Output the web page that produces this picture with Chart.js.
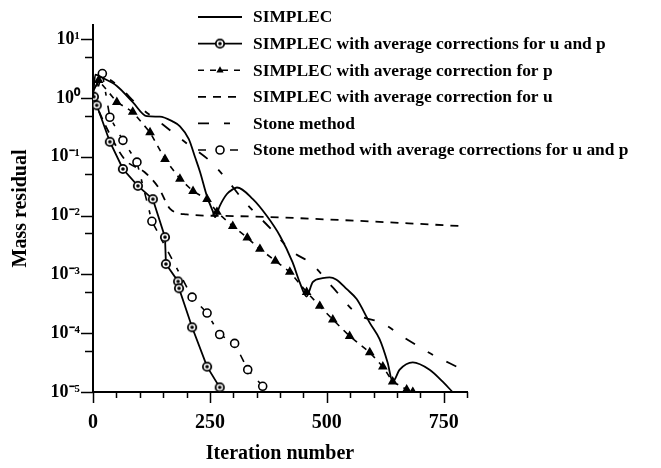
<!DOCTYPE html>
<html>
<head>
<meta charset="utf-8">
<script src="https://cdn.jsdelivr.net/npm/chart.js@4.4.0/dist/chart.umd.min.js"></script>
<style>
  html, body { margin: 0; padding: 0; background: #fff; }
</style>
</head>
<body>
<canvas id="residuals" width="661" height="468"></canvas>
<script>
// values (x = iteration, y = mass residual)
var simplecIter = [0, 5, 20, 51, 85, 115, 143, 170, 186, 205, 218, 229, 244, 256, 261, 271, 286, 299, 308, 342, 372, 400, 427, 442, 457, 470, 491, 506, 520, 543, 564, 592, 613, 630, 641, 656, 684, 720, 748, 769];
var simplecRes = [1.0, 2.5, 2.2, 1.6, 0.85, 0.49, 0.48, 0.4, 0.33, 0.2, 0.1, 0.055, 0.021, 0.012, 0.0094, 0.0145, 0.023, 0.028, 0.030, 0.019, 0.0098, 0.0045, 0.0016, 0.00074, 0.00042, 0.00074, 0.00086, 0.00089, 0.00082, 0.00056, 0.00038, 0.00015, 0.000079, 0.000032, 0.000015, 0.000024, 0.000032, 0.000024, 0.000015, 0.00001];

var uvIter = [2, 8, 36, 64, 96, 128, 154, 156, 182, 184, 212, 244, 271];
var uvRes = [1.05, 0.75, 0.18, 0.062, 0.032, 0.019, 0.0043, 0.0015, 0.00076, 0.00058, 0.000126, 0.000027, 0.000012];

var pIter = [0, 12, 51, 85, 122, 154, 186, 214, 244, 265, 299, 330, 357, 390, 421, 457, 485, 513, 549, 592, 620, 641, 671, 684];
var pRes = [1.0, 2.0, 0.85, 0.58, 0.26, 0.091, 0.042, 0.026, 0.019, 0.0115, 0.0066, 0.0042, 0.0027, 0.0017, 0.0011, 0.0005, 0.00029, 0.00017, 0.000089, 0.000047, 0.000027, 0.000015, 0.000011, 0.00001];

var uIter = [0, 30, 68, 110, 140, 165, 200, 300, 400, 500, 600, 700, 790];
var uRes = [1.0, 0.3, 0.09, 0.055, 0.03, 0.013, 0.0105, 0.0098, 0.0093, 0.0086, 0.0079, 0.0072, 0.0066];

var stoneIter = [0, 20, 50, 100, 150, 200, 250, 282, 325, 380, 425, 468, 513, 566, 618, 665, 722, 782];
var stoneRes = [1.3, 2.3, 1.7, 0.7, 0.35, 0.17, 0.085, 0.045, 0.017, 0.006, 0.0025, 0.0015, 0.0006, 0.00021, 0.00015, 0.000085, 0.000045, 0.000026];

var stoneAvgIter = [0, 20, 36, 64, 94, 126, 212, 244, 271, 303, 331, 363];
var stoneAvgRes = [0.8, 2.6, 0.47, 0.19, 0.081, 0.008, 0.00041, 0.00022, 0.000095, 0.000067, 0.000024, 0.0000125];

var seriesNames = [
  'SIMPLEC',
  'SIMPLEC with average corrections for u and p',
  'SIMPLEC with average correction for p',
  'SIMPLEC with average correction for u',
  'Stone method',
  'Stone method with average corrections for u and p'
];

var yTickValues = [1e-5, 5e-5, 1e-4, 5e-4, 1e-3, 5e-3, 1e-2, 5e-2, 1e-1, 0.5, 1, 5, 10];
var yTickLabels = ['10\u207B\u2075', '10\u207B\u2074', '10\u207B\u00B3', '10\u207B\u00B2', '10\u207B\u00B9', '10\u2070', '10\u00B9'];
var xTickLabels = ['0', '250', '500', '750'];

var serif = '"Liberation Serif", "Times New Roman", serif';

function pairs(xs, ys) {
  return xs.map(function(x, i) { return {x: x, y: ys[i]}; });
}

function isDecade(v) {
  var l = Math.log10(v);
  return Math.abs(l - Math.round(l)) < 1e-6;
}

/** circle with a dark centre, used for the u and p corrected SIMPLEC run */
function dotCircle() {
  var c = document.createElement('canvas');
  c.width = 12; c.height = 12;
  var g = c.getContext('2d');
  g.fillStyle = '#fff';
  g.strokeStyle = '#000';
  g.lineWidth = 1.8;
  g.beginPath(); g.arc(6, 6, 4.2, 0, Math.PI * 2); g.fill(); g.stroke();
  g.fillStyle = '#000';
  g.beginPath(); g.arc(6, 6, 1.8, 0, Math.PI * 2); g.fill();
  return c;
}
var dotMarker = dotCircle();

function drawMarker(ctx, ds, x, y) {
  if (!ds.pointRadius) return;
  if (ds.pointStyle === dotMarker) {
    ctx.drawImage(dotMarker, x - 6, y - 6);
  } else if (ds.pointStyle === 'triangle') {
    var r = ds.pointRadius;
    ctx.fillStyle = '#000';
    ctx.beginPath();
    ctx.moveTo(x, y - r);
    ctx.lineTo(x + r * 0.9, y + r * 0.6);
    ctx.lineTo(x - r * 0.9, y + r * 0.6);
    ctx.closePath();
    ctx.fill();
  } else {
    ctx.fillStyle = '#fff';
    ctx.strokeStyle = '#000';
    ctx.lineWidth = 1.6;
    ctx.beginPath(); ctx.arc(x, y, ds.pointRadius, 0, Math.PI * 2); ctx.fill(); ctx.stroke();
  }
}

// long ticks on decades / multiples of 250, short ones in between
var axisTicks = {
  id: 'axisTicks',
  afterDraw: function(chart) {
    var ctx = chart.ctx;
    var xs = chart.scales.x, ys = chart.scales.y;
    ctx.save();
    ctx.strokeStyle = '#000';
    ctx.lineWidth = 1.5;
    ctx.beginPath();
    xs.ticks.forEach(function(t) {
      var px = Math.round(xs.getPixelForValue(t.value)) + 0.5;
      var len = t.value % 250 === 0 ? 11 : 6;
      ctx.moveTo(px, xs.top); ctx.lineTo(px, xs.top + len);
    });
    ys.ticks.forEach(function(t) {
      var py = Math.round(ys.getPixelForValue(t.value)) + 0.5;
      var len = isDecade(t.value) ? 12 : 8;
      ctx.moveTo(ys.right, py); ctx.lineTo(ys.right - len, py);
    });
    ctx.stroke();
    ctx.restore();
  }
};

// legend sits inside the plot, top right
var legendLines = {
  id: 'legendLines',
  afterDraw: function(chart) {
    var ctx = chart.ctx;
    ctx.save();
    chart.data.datasets.forEach(function(ds, i) {
      var y = 17 + i * 26.6;
      ctx.strokeStyle = '#000';
      ctx.lineWidth = ds.borderWidth;
      ctx.setLineDash(ds.borderDash || []);
      ctx.beginPath(); ctx.moveTo(198, y); ctx.lineTo(242, y); ctx.stroke();
      ctx.setLineDash([]);
      drawMarker(ctx, ds, 220, y);
      ctx.fillStyle = '#000';
      ctx.font = 'bold 17.4px ' + serif;
      ctx.textBaseline = 'middle';
      ctx.fillText(ds.label, 253, y + 1);
    });
    ctx.restore();
  }
};

var config = {
  type: 'line',
  data: {
    datasets: [
      {label: seriesNames[0], data: pairs(simplecIter, simplecRes), borderColor: '#000', borderWidth: 1.8,
       pointRadius: 0, cubicInterpolationMode: 'monotone'},
      {label: seriesNames[1], data: pairs(uvIter, uvRes), borderColor: '#000', borderWidth: 1.8,
       pointStyle: dotMarker, pointRadius: 5},
      {label: seriesNames[2], data: pairs(pIter, pRes), borderColor: '#000', backgroundColor: '#000', borderWidth: 1.6,
       borderDash: [6, 6], pointStyle: 'triangle', pointRadius: 4},
      {label: seriesNames[3], data: pairs(uIter, uRes), borderColor: '#000', borderWidth: 1.8,
       borderDash: [8, 7], pointRadius: 0, cubicInterpolationMode: 'monotone'},
      {label: seriesNames[4], data: pairs(stoneIter, stoneRes), borderColor: '#000', borderWidth: 1.8,
       borderDash: [11, 15, 6, 15], pointRadius: 0, cubicInterpolationMode: 'monotone'},
      {label: seriesNames[5], data: pairs(stoneAvgIter, stoneAvgRes), borderColor: '#000', backgroundColor: '#fff',
       borderWidth: 1.6, borderDash: [8, 10, 4, 10], pointStyle: 'circle', pointRadius: 4, pointBorderWidth: 1.6}
    ]
  },
  options: {
    responsive: false,
    animation: false,
    layout: {padding: {top: 25, right: 194, left: 0, bottom: 0}},
    plugins: {legend: {display: false}, tooltip: {enabled: false}},
    scales: {
      x: {
        type: 'linear', min: 0, max: 800,
        afterFit: function(scale) { scale.height = 76; },
        grid: {drawOnChartArea: false, drawTicks: false},
        border: {color: '#000', width: 2},
        ticks: {
          stepSize: 50, autoSkip: false, maxRotation: 0, padding: 19, color: '#000',
          font: {family: serif, size: 20, weight: 'bold'},
          callback: function(v) { return v % 250 === 0 ? xTickLabels[v / 250] : ''; }
        },
        title: {display: true, text: 'Iteration number', color: '#000',
                font: {family: serif, size: 20, weight: 'bold'}, padding: {top: 0, bottom: 2}}
      },
      y: {
        type: 'logarithmic', min: 1e-5, max: 17.4,
        afterFit: function(scale) { scale.width = 93; },
        afterBuildTicks: function(scale) {
          scale.ticks = yTickValues.map(function(v) { return {value: v}; });
        },
        grid: {drawOnChartArea: false, drawTicks: false},
        border: {color: '#000', width: 2},
        ticks: {
          autoSkip: false, padding: 13, color: '#000',
          font: {family: serif, size: 18, weight: 'bold'},
          callback: function(v) {
            if (!isDecade(v)) return '';
            return yTickLabels[Math.round(Math.log10(v)) + 5];
          }
        },
        title: {display: true, text: 'Mass residual', color: '#000',
                font: {family: serif, size: 20, weight: 'bold'}, padding: {top: 9, bottom: 0}}
      }
    }
  },
  plugins: [axisTicks, legendLines]
};

var ctx = document.getElementById('residuals').getContext('2d');
window.chart = new Chart(ctx, config);
</script>
</body>
</html>
